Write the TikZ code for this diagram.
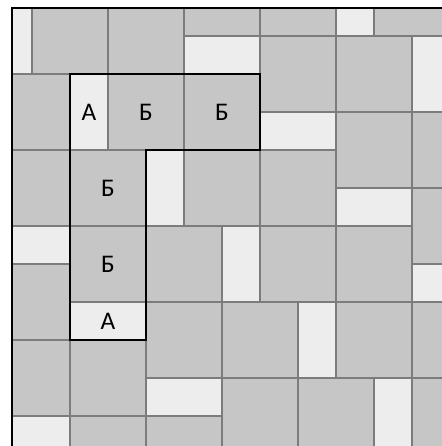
\documentclass[tikz,border=0pt]{standalone}
\usepackage{fontspec}
\setmainfont{Carlito}
\definecolor{tilegray}{HTML}{C6C6C6}
\definecolor{tilelight}{HTML}{EDEDED}
\definecolor{seam}{HTML}{7C7C7C}
\newcommand\tileG[2]{\draw[sqtile] (#1,#2) rectangle ++(2,2);}
\newcommand\tileH[2]{\draw[lighttile] (#1,#2) rectangle ++(2,1);}
\newcommand\tileV[2]{\draw[lighttile] (#1,#2) rectangle ++(1,2);}
\begin{document}
\begin{tikzpicture}[x=1cm,y=-1cm,
  sqtile/.style={fill=tilegray, draw=seam, line width=1pt},
  lighttile/.style={fill=tilelight, draw=seam, line width=1pt},
  outline/.style={draw=black, line width=1.6pt, line join=miter},
  frameline/.style={draw=black, line width=2pt},
  lbl/.style={font=\fontsize{19}{22}\selectfont, inner sep=0pt}]
\useasboundingbox (-0.842,-0.947) rectangle (10.763,10.789);
\begin{scope}
\clip (-0.526,-0.737) rectangle (11.5,11.5);
% gray squares
\tileG{0}{-1}\tileG{2}{-1}\tileG{4}{-2}\tileG{6}{-2}\tileG{9}{-2}
\tileG{6}{0}\tileG{8}{0}
\tileG{-1}{1}\tileG{2}{1}\tileG{4}{1}
\tileG{8}{2}\tileG{10}{2}
\tileG{-1}{3}\tileG{1}{3}\tileG{4}{3}\tileG{6}{3}
\tileG{10}{4}
\tileG{1}{5}\tileG{3}{5}\tileG{6}{5}\tileG{8}{5}
\tileG{-1}{6}
\tileG{3}{7}\tileG{5}{7}\tileG{8}{7}\tileG{10}{7}
\tileG{-1}{8}\tileG{1}{8}
\tileG{5}{9}\tileG{7}{9}\tileG{10}{9}
\tileG{1}{10}\tileG{3}{10}
% light horizontal
\tileH{4}{0}\tileH{6}{2}\tileH{8}{4}\tileH{-1}{5}\tileH{10}{6}\tileH{1}{7}\tileH{3}{9}\tileH{-1}{10}
% light vertical
\tileV{-1}{-1}\tileV{8}{-2}\tileV{10}{0}\tileV{1}{1}\tileV{3}{3}\tileV{5}{5}\tileV{7}{7}\tileV{9}{9}
\end{scope}
% L-shaped outline
\draw[outline] (1,1) -- (6,1) -- (6,3) -- (3,3) -- (3,8) -- (1,8) -- cycle;
% labels
\node[lbl] (a1) at (1.5,2) {А};
\node[lbl] (b1) at (3,2) {Б};
\node[lbl] (b2) at (5,2) {Б};
\node[lbl] (b3) at (2,4) {Б};
\node[lbl] (b4) at (2,6) {Б};
\node[lbl] (a2) at (2,7.5) {А};
% frame (left and top edges)
\draw[frameline] (-0.526,11.5) -- (-0.526,-0.737) -- (11.5,-0.737);
\end{tikzpicture}
\end{document}
